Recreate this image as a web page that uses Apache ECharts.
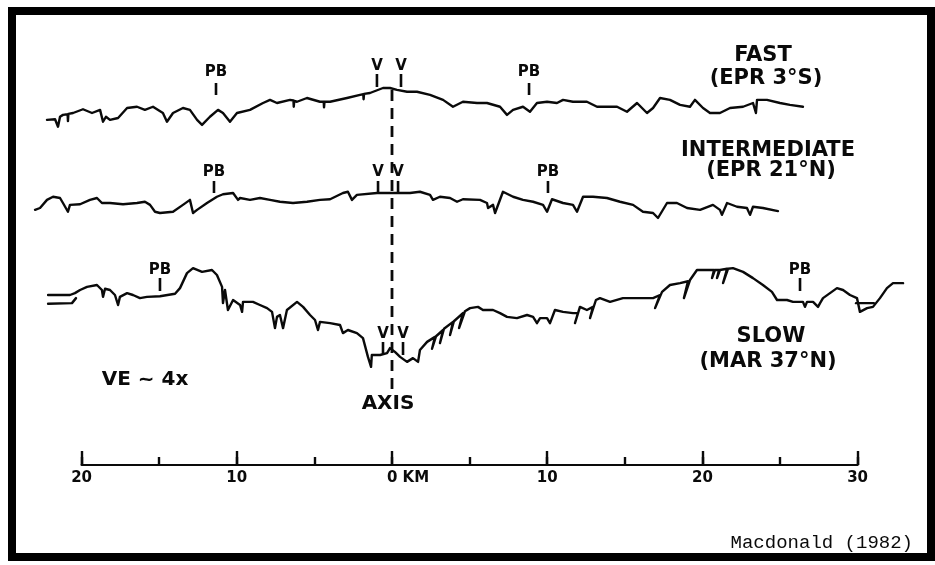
<!DOCTYPE html>
<html>
<head>
<meta charset="utf-8">
<script src="https://cdn.jsdelivr.net/npm/echarts@6/dist/echarts.min.js"></script>
<style>
  html, body { margin: 0; padding: 0; background: #fff; }
  #chart { width: 935px; height: 565px; }
</style>
</head>
<body>
<div id="chart"></div>
<script>
// Bathymetric profiles across a fast, an intermediate and a slow spreading ridge.
// x: distance from the ridge axis (km); y: depth relative to the axis (m), VE ~4x.

const fastProfile = [
  [-22.23,510],[-21.71,500],[-21.52,620],[-21.39,460],[-21.2,430],[-20.9,420],[-20.88,530],[-20.85,415],
  [-20.55,400],[-19.91,340],[-19.33,400],[-18.81,350],[-18.62,540],[-18.43,460],[-18.17,510],[-17.65,480],
  [-17.07,320],[-16.43,300],[-15.92,350],[-15.4,300],[-14.76,400],[-14.5,540],[-14.11,400],[-13.47,320],
  [-13.02,350],[-12.56,510],[-12.24,590],[-11.73,460],[-11.21,350],[-10.89,400],[-10.44,540],[-9.99,400],
  [-9.15,350],[-8.31,240],[-7.86,190],[-7.41,240],[-6.57,190],[-6.35,200],[-6.33,300],[-6.3,205],
  [-6.12,220],[-5.48,160],[-4.64,220],[-4.4,220],[-4.38,310],[-4.35,220],[-3.99,220],[-2.9,160],
  [-2.06,110],[-1.85,100],[-1.83,180],[-1.8,95],[-1.42,80],[-0.58,0],[-0.13,0],[0.32,30],[0.97,60],
  [1.61,60],[2.45,110],[3.29,190],[3.93,300],[4.57,220],[5.48,240],[6.12,240],[6.96,300],[7.41,430],
  [7.8,350],[8.44,300],[8.89,380],[9.34,240],[9.99,220],[10.63,240],[11.02,190],[11.66,220],[12.56,220],
  [13.21,300],[13.85,300],[14.5,300],[15.14,380],[15.79,240],[16.43,400],[16.82,320],[17.27,160],
  [17.91,190],[18.56,270],[19.2,300],[19.52,190],[20.04,320],[20.49,400],[21.13,400],[21.78,320],
  [22.62,300],[23.26,240],[23.45,400],[23.52,190],[24.16,190],[25.0,240],[25.64,270],[26.48,300]
];

const intermediateProfile = [
  [-23.0,270],[-22.68,240],[-22.23,110],[-21.84,60],[-21.39,80],[-21.2,160],[-20.88,300],[-20.75,190],
  [-20.1,180],[-19.46,110],[-19.01,80],[-18.69,160],[-18.17,160],[-17.33,180],[-16.43,160],[-15.92,140],
  [-15.59,190],[-15.27,300],[-14.95,320],[-14.11,300],[-13.47,190],[-13.02,110],[-12.82,320],[-12.56,270],
  [-11.92,160],[-11.28,60],[-10.89,20],[-10.24,0],[-9.92,110],[-9.79,80],[-9.15,110],[-8.51,80],
  [-7.86,110],[-7.22,140],[-6.38,160],[-5.48,140],[-4.64,110],[-3.99,100],[-3.16,0],[-2.84,-20],
  [-2.58,110],[-2.26,30],[-0.97,0],[-0.26,0],[0.32,0],[1.16,0],[1.8,-20],[2.45,30],[2.64,110],[3.09,60],
  [3.74,80],[4.19,140],[4.57,100],[5.67,110],[6.12,160],[6.19,240],[6.51,190],[6.64,320],[7.15,-20],
  [7.8,60],[8.44,110],[9.09,140],[9.73,190],[9.99,300],[10.31,100],[11.02,160],[11.66,190],[11.92,300],
  [12.31,60],[12.95,60],[13.85,80],[14.69,140],[15.53,190],[16.17,300],[16.82,320],[17.14,400],
  [17.72,160],[18.36,160],[19.01,240],[19.85,270],[20.68,190],[21.13,270],[21.26,350],[21.59,160],
  [22.23,220],[22.87,240],[23.07,350],[23.26,220],[23.9,240],[24.87,290]
];

const slowProfile = [
  [-22.16,-880],[-20.75,-880],[-20.43,-910],[-20.1,-960],[-19.65,-1010],[-19.01,-1040],[-18.69,-960],
  [-18.62,-850],[-18.49,-980],[-18.17,-960],[-17.85,-880],[-17.65,-720],[-17.53,-850],[-17.07,-910],
  [-16.69,-880],[-16.24,-830],[-15.79,-850],[-14.95,-860],[-13.98,-900],[-13.66,-990],[-13.21,-1230],
  [-12.82,-1310],[-12.24,-1250],[-11.6,-1280],[-11.28,-1200],[-10.95,-1010],[-10.89,-750],[-10.76,-960],
  [-10.57,-640],[-10.24,-800],[-9.79,-720],[-9.66,-610],[-9.6,-770],[-8.96,-770],[-8.51,-720],[-8.05,-670],
  [-7.73,-610],[-7.54,-350],[-7.41,-530],[-7.22,-560],[-7.02,-350],[-6.77,-640],[-6.12,-770],[-5.73,-690],
  [-5.28,-560],[-4.96,-480],[-4.77,-320],[-4.64,-450],[-3.99,-430],[-3.35,-400],[-3.16,-270],[-2.84,-320],
  [-2.26,-270],[-1.87,-190],[-1.55,110],[-1.35,270],[-1.3,80],[-0.77,80],[-0.32,50],[-0.13,-30],[0.19,30],
  [0.52,110],[0.97,190],[1.35,130],[1.68,190],[1.8,0],[2.26,-130],[2.77,-210],[2.58,-20],[2.84,-220],
  [3.29,-320],[3.09,-110],[3.35,-340],[3.93,-450],[3.74,-240],[3.99,-460],[4.57,-590],[4.32,-350],
  [4.7,-620],[5.03,-670],[5.54,-690],[5.86,-640],[6.51,-640],[6.96,-590],[7.41,-530],[8.05,-510],
  [8.7,-560],[9.09,-530],[9.34,-430],[9.54,-510],[9.99,-510],[10.18,-430],[10.5,-640],[11.02,-610],
  [11.66,-590],[11.98,-590],[11.79,-430],[12.11,-690],[12.56,-640],[12.95,-690],[12.76,-510],[13.14,-800],
  [13.4,-830],[14.05,-770],[14.88,-830],[15.98,-830],[16.82,-830],[17.27,-880],[16.95,-670],[17.4,-930],
  [17.91,-1040],[18.56,-1070],[19.07,-1100],[18.81,-830],[19.2,-1120],[19.65,-1280],[20.49,-1280],
  [20.75,-1280],[20.62,-1150],[20.81,-1280],[21.07,-1280],[20.94,-1150],[21.13,-1280],[21.59,-1300],
  [21.33,-1070],[21.65,-1300],[21.97,-1310],[22.62,-1250],[23.26,-1150],[23.9,-1040],[24.48,-930],
  [24.81,-800],[25.45,-800],[25.84,-770],[26.48,-770],[26.61,-690],[26.74,-770],[27.13,-770],[27.45,-690],
  [27.58,-750],[27.77,-830],[28.22,-910],[28.67,-990],[29.06,-960],[29.51,-880],[29.96,-830],[30.15,-610],
  [30.61,-670],[30.99,-690],[31.44,-830],[31.89,-990],[32.28,-1070],[32.93,-1070]
];

// second, parallel traces where two crossings overlap on the slow profile
const slowWestTrace = [[-22.16,-740],[-20.62,-750],[-20.36,-830]];
const slowEastTrace = [[29.9,-750],[31.05,-750]];

// plate-boundary (PB) and volcanic-zone (V) markers: [label, km]
const fastMarks = [['PB',-11.34],['V',-0.97],['V',0.58],['PB',8.83]];
const intermediateMarks = [['PB',-11.47],['V',-0.9],['V',0.39],['PB',10.05]];
const slowMarks = [['PB',-14.95],['V',-0.58],['V',0.71],['PB',26.29]];

const profileTitles = [['FAST','(EPR 3°S)'], ['INTERMEDIATE','(EPR 21°N)'], ['SLOW','(MAR 37°N)']];

// distance scale bar
const scaleMin = -20, scaleMax = 30, scaleMajor = 10, scaleMinor = 5;
const scaleLabel = v => (v === 0 ? '{zero|0 KM}' : String(Math.abs(v)));

// ---- layout ----
const INK = '#0a0a0a';
const LETTER = "'DejaVu Sans', 'Liberation Sans', sans-serif";
const PX_PER_KM = 15.52, AXIS_X = 392, M_PER_PX = 16;
const X_MIN = -23, X_MAX = 34;

const bands = [
  { profile: fastProfile, extra: [], marks: fastMarks, axisPx: 88, top: 55, bottom: 140,
    rows: { PB: [72.5, 83, 95], V: [66.5, 74, 87] } },
  { profile: intermediateProfile, extra: [], marks: intermediateMarks, axisPx: 193, top: 150, bottom: 235,
    rows: { PB: [172, 181, 193], V: [172, 181, 193] } },
  { profile: slowProfile, extra: [slowWestTrace, slowEastTrace], marks: slowMarks, axisPx: 350, top: 250, bottom: 380,
    rows: { PB: [270, 278, 291], V: [334, 342, 355] } }
];

const grid = [], xAxis = [], yAxis = [], series = [];

bands.forEach((b, i) => {
  grid.push({
    left: AXIS_X + X_MIN * PX_PER_KM, width: (X_MAX - X_MIN) * PX_PER_KM,
    top: b.top, height: b.bottom - b.top, outerBoundsMode: 'none', containLabel: false
  });
  xAxis.push({ gridIndex: i, type: 'value', min: X_MIN, max: X_MAX, show: false });
  yAxis.push({
    gridIndex: i, type: 'value', inverse: true, show: false,
    min: (b.top - b.axisPx) * M_PER_PX, max: (b.bottom - b.axisPx) * M_PER_PX
  });
  [b.profile, ...b.extra].forEach(d => series.push({
    type: 'line', xAxisIndex: i, yAxisIndex: i, data: d, symbol: 'none', clip: false, silent: true,
    lineStyle: { color: INK, width: 2.4, join: 'round', cap: 'round' }, z: 3
  }));
  series.push({
    type: 'custom', xAxisIndex: i, yAxisIndex: i, clip: false, silent: true, z: 4,
    data: b.marks.map(m => [m[1], 0]),
    renderItem: (params, api) => {
      const m = b.marks[params.dataIndex];
      const x = api.coord([api.value(0), 0])[0];
      const [ty, t0, t1] = b.rows[m[0]];
      return {
        type: 'group',
        children: [
          { type: 'line', shape: { x1: x, y1: t0, x2: x, y2: t1 }, style: { stroke: INK, lineWidth: 2.6 } },
          { type: 'text', x: x, y: ty, style: {
              text: m[0], align: 'center', verticalAlign: 'middle', fill: INK,
              fontSize: 15, fontWeight: 'bold', fontFamily: LETTER } }
        ]
      };
    }
  });
});

// scale bar grid
const SB = 3;
grid.push({
  left: AXIS_X + scaleMin * PX_PER_KM, width: (scaleMax - scaleMin) * PX_PER_KM,
  top: 420, height: 45, outerBoundsMode: 'none', containLabel: false
});
xAxis.push({
  gridIndex: SB, type: 'value', position: 'bottom', min: scaleMin, max: scaleMax, interval: scaleMajor,
  axisLine: { show: true, lineStyle: { color: INK, width: 2.2 } },
  axisTick: { show: true, inside: true, length: 14, lineStyle: { color: INK, width: 2.4 } },
  splitLine: { show: false },
  axisLabel: {
    show: true, margin: 6, color: INK, fontSize: 15, fontWeight: 'bold', fontFamily: LETTER,
    formatter: scaleLabel,
    rich: { zero: { padding: [0, 0, 0, 32], color: INK, fontSize: 15, fontWeight: 'bold', fontFamily: LETTER } }
  }
});
xAxis.push({
  gridIndex: SB, type: 'value', position: 'bottom', min: scaleMin, max: scaleMax, interval: scaleMinor,
  axisLine: { show: false }, splitLine: { show: false }, axisLabel: { show: false },
  axisTick: { show: true, inside: true, length: 8, lineStyle: { color: INK, width: 2.4 } }
});
yAxis.push({ gridIndex: SB, type: 'value', min: 0, max: 1, show: false });

// dashed ridge-axis line at 0 km
series.push({
  type: 'custom', xAxisIndex: 3, yAxisIndex: SB, clip: false, silent: true, z: 2,
  data: [[0, 0]],
  renderItem: (params, api) => {
    const x = api.coord([api.value(0), 0])[0];
    return { type: 'line', shape: { x1: x, y1: 90, x2: x, y2: 389 },
      style: { stroke: INK, lineWidth: 2.8, lineDash: [11, 7] } };
  }
});

const text = (str, x, y, size, opts = {}) => ({
  type: 'text', x, y, silent: true, z: 10,
  style: Object.assign({ text: str, align: 'center', verticalAlign: 'middle', fill: INK,
    fontSize: size, fontWeight: 'bold', fontFamily: LETTER }, opts)
});

const titleSpots = [[[763, 56], [766, 79]], [[768, 151], [771, 171]], [[771, 337], [768, 362]]];
const graphic = [
  { type: 'rect', silent: true, z: 20, shape: { x: 12, y: 11, width: 919, height: 546 },
    style: { fill: 'none', stroke: '#000', lineWidth: 8 } }
];
profileTitles.forEach((t, i) => {
  graphic.push(text(t[0], titleSpots[i][0][0], titleSpots[i][0][1], 21));
  graphic.push(text(t[1], titleSpots[i][1][0], titleSpots[i][1][1], 21));
});
graphic.push(text('VE ~ 4x', 145, 380, 20));
graphic.push(text('AXIS', 388, 404, 20));
graphic.push(text('Macdonald (1982)', 913, 543, 19,
  { align: 'right', fontWeight: 'normal', fontFamily: "'Courier New', 'Liberation Mono', monospace" }));

const chart = echarts.init(document.getElementById('chart'), null, { renderer: 'canvas' });
chart.setOption({
  backgroundColor: '#ffffff',
  animation: false,
  grid, xAxis, yAxis, series, graphic
});
</script>
</body>
</html>
